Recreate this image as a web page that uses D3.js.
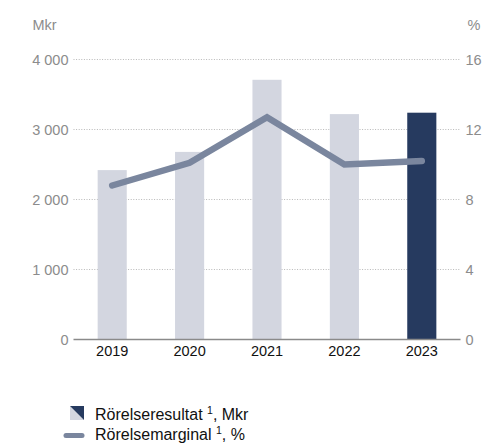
<!DOCTYPE html>
<html>
<head>
<meta charset="utf-8">
<script src="https://cdn.jsdelivr.net/npm/d3@7"></script>
<style>
  html, body { margin: 0; padding: 0; background: #fff; }
  svg { display: block; font-family: "Liberation Sans", Arial, Helvetica, sans-serif; }
</style>
</head>
<body>
<svg id="chart" width="484" height="444"></svg>
<script>
// Operating result (Mkr) and operating margin (%) per year
const years = ["2019", "2020", "2021", "2022", "2023"];
const resultMkr = [2420, 2680, 3710, 3220, 3240];
const marginPct = [8.8, 10.1, 12.7, 10.0, 10.2];
const leftTicks = [0, 1000, 2000, 3000, 4000];
const rightTicks = [0, 4, 8, 12, 16];
const legendLabels = ["Rörelseresultat", "Rörelsemarginal"];
const legendUnits = [", Mkr", ", %"];

const colLight = "#d3d6e0";
const colDark = "#263a5f";
const colLine = "#7a869e";
const colText = "#8c8c8c";

const svg = d3.select("#chart");
const plotL = 73.5, plotR = 460.5, plotT = 59.5, plotB = 339.5;

const x = d3.scaleBand().domain(years).range([plotL, plotR])
  .paddingInner(0.624).paddingOuter(0.312);
const yL = d3.scaleLinear().domain([0, 4000]).range([plotB, plotT]);
const yR = d3.scaleLinear().domain([0, 16]).range([plotB, plotT]);

const fmt = v => d3.format(",")(v).replace(/,/g, " ");

// Dotted gridlines
svg.append("g")
  .selectAll("line").data(leftTicks.filter(d => d > 0)).join("line")
  .attr("x1", plotL).attr("x2", plotR)
  .attr("y1", d => yL(d)).attr("y2", d => yL(d))
  .attr("stroke", "#b8b8b8").attr("stroke-width", 1)
  .attr("stroke-dasharray", "1,1.6");

// Left axis labels
const leftAxis = svg.append("g")
  .attr("transform", `translate(${plotL - 5},0)`)
  .call(d3.axisLeft(yL).tickValues(leftTicks).tickFormat(fmt).tickSize(0).tickPadding(0));
leftAxis.select(".domain").remove();
leftAxis.selectAll("text")
  .attr("fill", colText).attr("font-size", "14.5px")
  .attr("font-family", "Liberation Sans, Arial, sans-serif");

// Right axis labels
const rightAxis = svg.append("g")
  .attr("transform", `translate(${plotR + 5},0)`)
  .call(d3.axisRight(yR).tickValues(rightTicks).tickSize(0).tickPadding(0));
rightAxis.select(".domain").remove();
rightAxis.selectAll("text")
  .attr("fill", colText).attr("font-size", "14.5px")
  .attr("font-family", "Liberation Sans, Arial, sans-serif");

// Unit titles
svg.append("text").attr("x", 32.5).attr("y", 30).text("Mkr")
  .attr("fill", colText).attr("font-size", "14.5px");
svg.append("text").attr("x", 467.5).attr("y", 30).text("%")
  .attr("fill", colText).attr("font-size", "14.5px");

// Bars
svg.append("g")
  .selectAll("rect").data(years).join("rect")
  .attr("x", d => x(d))
  .attr("width", x.bandwidth())
  .attr("y", (d, i) => yL(resultMkr[i]))
  .attr("height", (d, i) => yL(0) - yL(resultMkr[i]))
  .attr("fill", (d, i) => i === years.length - 1 ? colDark : colLight);

// Baseline
svg.append("line")
  .attr("x1", plotL).attr("x2", plotR)
  .attr("y1", yL(0)).attr("y2", yL(0))
  .attr("stroke", "#8a8a8a").attr("stroke-width", 1.5);

// Year labels
const xAxis = svg.append("g")
  .attr("transform", `translate(0,${plotB})`)
  .call(d3.axisBottom(x).tickSize(0).tickPadding(6));
xAxis.select(".domain").remove();
xAxis.selectAll("text")
  .attr("fill", "#111").attr("font-size", "14.5px")
  .attr("font-family", "Liberation Sans, Arial, sans-serif");

// Margin line
const line = d3.line()
  .x((d, i) => x(years[i]) + x.bandwidth() / 2)
  .y(d => yR(d));
svg.append("path")
  .datum(marginPct)
  .attr("d", line)
  .attr("fill", "none")
  .attr("stroke", colLine)
  .attr("stroke-width", 6.5)
  .attr("stroke-linecap", "round")
  .attr("stroke-linejoin", "miter");

// Legend
const lg = svg.append("g");
const sq = { x: 70, y: 406, s: 14 };
lg.append("path")
  .attr("d", `M${sq.x},${sq.y}L${sq.x},${sq.y + sq.s}L${sq.x + sq.s},${sq.y + sq.s}Z`)
  .attr("fill", colLight);
lg.append("path")
  .attr("d", `M${sq.x},${sq.y}L${sq.x + sq.s},${sq.y}L${sq.x + sq.s},${sq.y + sq.s}Z`)
  .attr("fill", colDark);
lg.append("line")
  .attr("x1", 66).attr("x2", 82).attr("y1", 435.5).attr("y2", 435.5)
  .attr("stroke", colLine).attr("stroke-width", 5).attr("stroke-linecap", "round");

const legendY = [420, 440];
legendLabels.forEach((lab, i) => {
  const t = lg.append("text").attr("x", 95).attr("y", legendY[i])
    .attr("fill", "#111").attr("font-size", "16px");
  t.append("tspan").text(lab + " ");
  t.append("tspan").text("1").attr("font-size", "10.5px").attr("dy", -6);
  t.append("tspan").text(legendUnits[i]).attr("dy", 6);
});
</script>
</body>
</html>
